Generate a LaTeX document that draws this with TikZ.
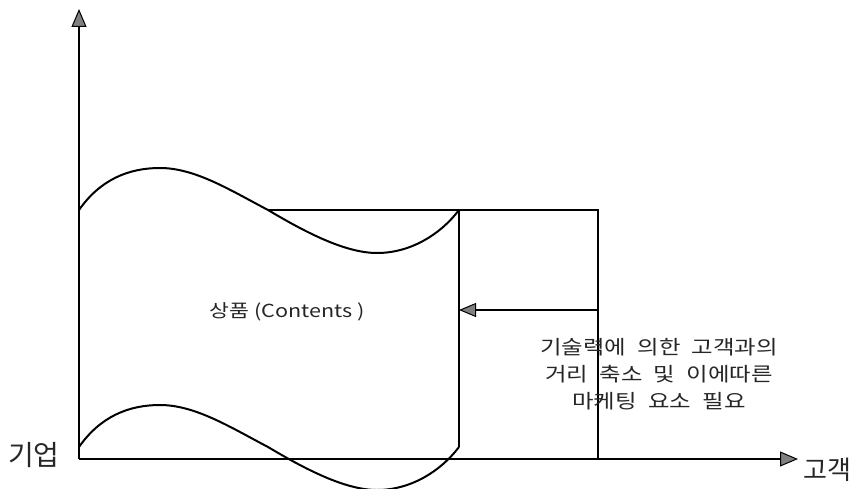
\documentclass[tikz,border=0pt]{standalone}
\usepackage{fontspec}
\newfontfamily\kr{Noto Sans CJK KR}
\newfontfamily\krw[FakeStretch=1.2]{Noto Sans CJK KR}
\usetikzlibrary{arrows.meta}
\tikzset{
  axis/.style={line width=2pt, -{Triangle[length=18pt,width=15pt,fill=black!50,line width=1pt]}},
  edge/.style={line width=2pt},
  wave/.style={line width=2pt},
  ptr/.style={line width=2pt, -{Triangle[length=17pt,width=14pt,fill=black!50,line width=1pt]}},
  lbl/.style={inner sep=0pt, text=black!85}
}
\begin{document}
\begin{tikzpicture}[x=1pt,y=-1pt]
\useasboundingbox (0,0) rectangle (858,489);
% key points
\coordinate (O) at (79,459);
\coordinate (Ytip) at (79,9);
\coordinate (Xtip) at (798,459);
\coordinate (RTL) at (268,210);
\coordinate (RTR) at (598,210);
\coordinate (RBR) at (598,459);
\coordinate (VT) at (459,210);
\coordinate (VB) at (459,447);
\coordinate (AS) at (598,310);
\coordinate (AE) at (459,310);
% axes
\draw[axis] (O) -- (Ytip);
\draw[axis] (O) -- (Xtip);
% right rectangle
\draw[edge] (RTL) -- (RTR) -- (RBR);
% vertical line at curve end
\draw[edge] (VT) -- (VB);
% top wave
\draw[wave] (79,210) .. controls (100,180) and (128,168) .. (160,168)
  .. controls (195,168) and (230,190) .. (268,210)
  .. controls (305,232) and (345,253) .. (377,253)
  .. controls (410,253) and (440,235) .. (459,210);
% bottom wave
\draw[wave] (79,447) .. controls (100,417) and (128,405) .. (160,405)
  .. controls (195,405) and (230,427) .. (268,447)
  .. controls (305,469) and (345,490) .. (377,490)
  .. controls (410,490) and (440,472) .. (459,447);
% arrow
\draw[ptr] (AS) -- (AE);
% labels
\node[lbl, font=\kr\fontsize{28}{30}\selectfont] (firm) at (34,455) {기업};
\node[lbl, font=\kr\fontsize{26}{28}\selectfont] (cust) at (827,470) {고객};
\node[lbl, font=\krw\fontsize{18}{22}\selectfont] (prod) at (287,312) {상품 (Contents )};
\node[lbl, font=\krw\fontsize{19.5}{22}\selectfont, align=center] (note) at (659,374)
  {기술력에\hspace{6pt} 의한\hspace{6pt} 고객과의\\[5pt]거리\hspace{6pt} 축소\hspace{6pt} 및\hspace{6pt} 이에따른\\[5pt]마케팅\hspace{6pt} 요소\hspace{6pt} 필요};
\end{tikzpicture}
\end{document}
